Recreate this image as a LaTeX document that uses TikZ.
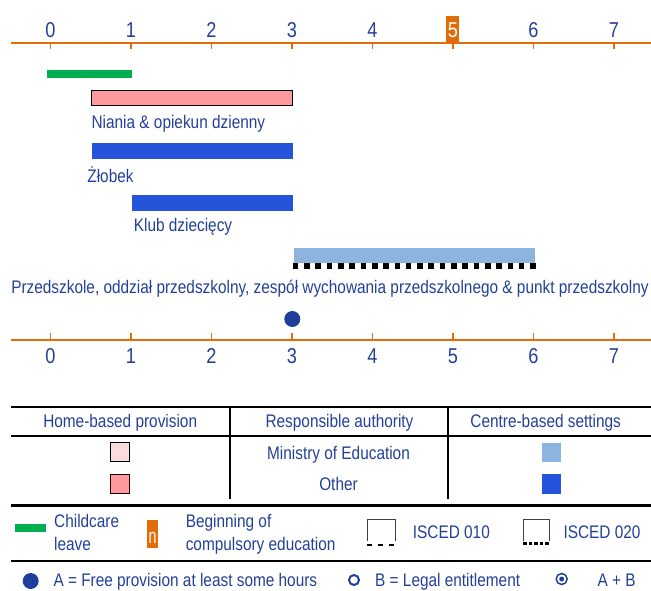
\documentclass[tikz,border=0pt]{standalone}
\usepackage{fontspec}
\setmainfont{Liberation Sans}[FakeStretch=0.845]
\usepackage{tikz}
\definecolor{txtblue}{RGB}{35,64,152}
\definecolor{axorange}{RGB}{227,108,10}
\definecolor{leavegreen}{RGB}{0,176,80}
\definecolor{homepink}{RGB}{255,153,160}
\definecolor{homepinklt}{RGB}{250,220,222}
\definecolor{centreblue}{RGB}{37,83,219}
\definecolor{centrebluelt}{RGB}{141,180,222}
\definecolor{dotblue}{RGB}{30,64,155}

\begin{document}
\begin{tikzpicture}[x=1pt,y=-1pt,
    txt/.style={text=txtblue,inner sep=0pt,font=\fontsize{18.2}{20}\selectfont},
    yr/.style={inner sep=0pt,anchor=base,font=\fontsize{21.5}{24}\selectfont},
    axis/.style={draw=axorange,line width=2pt},
    tick/.style={draw=axorange,line width=1.6pt},
    rule/.style={line width=2.4pt},
    isced/.style={draw=black!75,line width=0.9pt}]
  \useasboundingbox (0,0) rectangle (651,590);

  % age axes
  \draw[axis] (11,42.7) -- (651,42.7);
  \draw[axis] (11,340.3) -- (651,340.3);
  \fill[axorange] (446,16) rectangle (459,42.7);
  \foreach \a/\c in {0/txtblue,1/txtblue,2/txtblue,3/txtblue,4/txtblue,5/white,6/txtblue,7/txtblue} {
    \draw[tick] (50.4+80.5*\a,42.7) -- (50.4+80.5*\a,49.3);
    \draw[tick] (50.4+80.5*\a,340.3) -- (50.4+80.5*\a,333.3);
    \node[yr,text=\c] (top\a) at (50.4+80.5*\a,37.3) {\a};
    \node[yr,text=txtblue] (bot\a) at (50.4+80.5*\a,363.3) {\a};
  }

  % provision bars
  \fill[leavegreen] (47,70) rectangle (131.6,77.7);
  \filldraw[fill=homepink,draw=black,line width=1pt] (91.4,90) rectangle (292.8,105.3);
  \node[txt,anchor=base west] (niania) at (91.4,128) {Niania \& opiekun dzienny};
  \fill[centreblue] (92.2,143.3) rectangle (293.2,159);
  \node[txt,anchor=base west] (zlobek) at (87.2,182) {Żłobek};
  \fill[centreblue] (132,195) rectangle (293.2,210.7);
  \node[txt,anchor=base west] (klub) at (133.7,231.5) {Klub dziecięcy};
  \fill[centrebluelt] (294,248.3) rectangle (535.3,262.7);
  \draw[line width=6pt,dash pattern=on 5.65pt off 5.65pt] (292.8,266.3) -- (535.7,266.3);
  \node[txt,anchor=base] (przedszkole) at (330,293.3) {Przedszkole, oddział przedszkolny, zespół wychowania przedszkolnego \& punkt przedszkolny};
  \fill[dotblue] (292.3,319) circle (8pt);

  % authority table
  \draw[rule] (11,406.7) -- (651,406.7);
  \draw[line width=2pt] (11,436) -- (651,436);
  \draw[line width=1.8pt] (229.6,406.7) -- (229.6,499.3);
  \draw[line width=1.8pt] (447.7,406.7) -- (447.7,499.3);
  \node[txt,anchor=base] (home) at (120.2,427.3) {Home-based provision};
  \node[txt,anchor=base] (auth) at (339.5,427.3) {Responsible authority};
  \node[txt,anchor=base] (centre) at (545.7,427.3) {Centre-based settings};
  \node[txt,anchor=base] (ministry) at (338.5,459.6) {Ministry of Education};
  \node[txt,anchor=base] (other) at (338.5,490.6) {Other};
  \filldraw[fill=homepinklt,draw=black,line width=0.9pt] (110,442.7) rectangle (129.6,461.7);
  \filldraw[fill=homepink,draw=black!65!red!40!black,line width=1pt] (110,474) rectangle (129.6,493.7);
  \fill[centrebluelt] (542,443.3) rectangle (560.6,461.7);
  \fill[centreblue] (542,474) rectangle (560.6,493.7);

  % legend
  \draw[rule] (11,505.5) -- (651,505.5);
  \fill[leavegreen] (15,524) rectangle (45.7,531.7);
  \node[txt,anchor=base west] (leave1) at (54,527.3) {Childcare};
  \node[txt,anchor=base west] (leave2) at (54,550) {leave};
  \fill[axorange] (147.3,520) rectangle (158,548.3);
  \node[inner sep=0pt,anchor=base,text=white,xscale=0.8,font=\fontsize{21}{24}\selectfont] (nbox) at (152.65,543.3) {n};
  \node[txt,anchor=base west] (comp1) at (185.6,527.3) {Beginning of};
  \node[txt,anchor=base west] (comp2) at (185.6,550) {compulsory education};
  \draw[isced] (367.3,541) -- (367.3,519.3) -- (395,519.3) -- (395,541);
  \draw[line width=2pt,dash pattern=on 4.5pt off 6.5pt] (367.3,545) -- (395,545);
  \node[txt,anchor=base west] (isced1) at (412.7,538.6) {ISCED 010};
  \draw[isced] (523.3,541) -- (523.3,519.3) -- (549.3,519.3) -- (549.3,541);
  \draw[line width=3pt,dash pattern=on 3.6pt off 1.9pt] (523.3,543.5) -- (549.3,543.5);
  \node[txt,anchor=base west] (isced2) at (563.3,538.6) {ISCED 020};
  \draw[rule] (11,561) -- (651,561);
  \fill[dotblue] (30.7,581) circle (8pt);
  \node[txt,anchor=base west] (freeA) at (53.3,586.3) {A = Free provision at least some hours};
  \draw[dotblue,line width=2pt] (354,580) circle (5pt);
  \node[txt,anchor=base west] (legalB) at (375,586.3) {B = Legal entitlement};
  \draw[dotblue,line width=1.5pt] (561.7,579) circle (5.5pt);
  \fill[dotblue] (561.7,579) circle (2.5pt);
  \node[txt,anchor=base west] (both) at (597.3,586.3) {A + B};
\end{tikzpicture}
\end{document}
